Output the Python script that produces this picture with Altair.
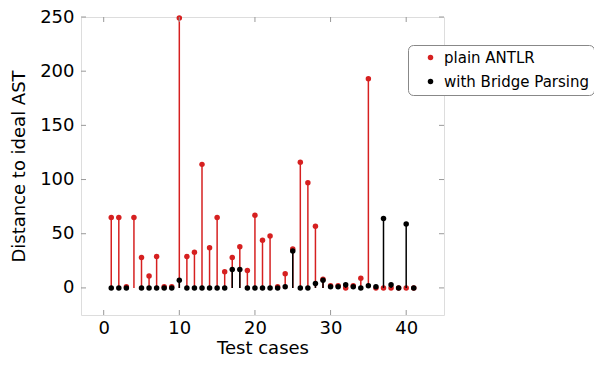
import altair as alt
import pandas as pd

# ---- data ----
cases = list(range(1, 42))
plain_antlr = [65, 65, 1, 65, 28, 11, 29, 1, 1, 249,
               29, 33, 114, 37, 65, 15, 28, 38, 16, 67,
               44, 48, 1, 13, 36, 116, 97, 57, 8, 2,
               2, 0, 2, 9, 193, 0, 0, 0, 0, 0,
               0]
bridge = [0, 0, 0, None, 0, 0, 0, 0, 0, 7,
          0, 0, 0, 0, 0, 0, 17, 17, 0, 0,
          0, 0, 0, 1, 34, 0, 0, 4, 7, 1,
          1, 3, 1, 0, 2, 1, 64, 3, 0, 59,
          0]
series_names = ["plain ANTLR", "with Bridge Parsing"]
series_colors = ["#d62020", "#000000"]
x_ticks = [0, 10, 20, 30, 40]
y_ticks = [0, 50, 100, 150, 200, 250]

rows = []
for c, v in zip(cases, plain_antlr):
    if v is not None:
        rows.append({"case": c, "value": v, "series": series_names[0]})
for c, v in zip(cases, bridge):
    if v is not None:
        rows.append({"case": c, "value": v, "series": series_names[1]})
df = pd.DataFrame(rows)

W, H = 363, 298
FONT = "DejaVu Sans"
FS = 18

xs = alt.Scale(domain=[-3, 45], nice=False, zero=False)
ys = alt.Scale(domain=[-25, 250], nice=False, zero=False)
cs = alt.Scale(domain=series_names, range=series_colors)

x_axis = alt.Axis(values=x_ticks, title="Test cases", tickSize=0,
                  domain=False, grid=False, labelPadding=4,
                  titlePadding=2, labelFontSize=FS, titleFontSize=FS,
                  labelColor="#000", titleColor="#000",
                  labelFont=FONT, titleFont=FONT, titleFontWeight="normal")
y_axis = alt.Axis(values=y_ticks, title="Distance to ideal AST", tickSize=0,
                  domain=False, grid=False, labelPadding=7,
                  titlePadding=11, labelFontSize=FS, titleFontSize=18,
                  labelColor="#000", titleColor="#000",
                  labelFont=FONT, titleFont=FONT, titleFontWeight="normal")
x_enc = alt.X("case:Q", scale=xs, axis=x_axis)
y_enc = alt.Y("value:Q", scale=ys, axis=y_axis)

layers = []
for i, name in enumerate(series_names):
    sub = alt.Chart(df).transform_filter(alt.datum.series == name)
    stems = sub.mark_rule(strokeWidth=1.5, color=series_colors[i]).encode(
        x=x_enc, y=y_enc, y2=alt.datum(0))
    pts = sub.mark_point(filled=True, shape="circle", size=30, opacity=1).encode(
        x=x_enc, y=y_enc,
        color=alt.Color("series:N", scale=cs,
                        legend=alt.Legend(title=None, orient="none", legendX=327, legendY=28,
                                          strokeColor="#888", cornerRadius=5, padding=5,
                                          fillColor="white",
                                          labelFontSize=15, labelFont=FONT, labelColor="#000",
                                          symbolType="circle", symbolSize=30,
                                          symbolStrokeWidth=0, symbolOffset=10,
                                          labelOffset=6, rowPadding=8,
                                          labelLimit=300)))
    layers += [stems, pts]

tx = pd.DataFrame({"case": x_ticks})
ty = pd.DataFrame({"value": y_ticks})
tick_col = "#999999"
bx = alt.Chart(tx).mark_rule(color=tick_col, strokeWidth=1).encode(
    x=x_enc, y=alt.value(H), y2=alt.value(H - 5))
tx_top = alt.Chart(tx).mark_rule(color=tick_col, strokeWidth=1).encode(
    x=x_enc, y=alt.value(0), y2=alt.value(5))
ly = alt.Chart(ty).mark_rule(color=tick_col, strokeWidth=1).encode(
    y=y_enc, x=alt.value(0), x2=alt.value(5))
ry = alt.Chart(ty).mark_rule(color=tick_col, strokeWidth=1).encode(
    y=y_enc, x=alt.value(W), x2=alt.value(W - 5))

chart = alt.layer(*layers, bx, tx_top, ly, ry).properties(
    width=W, height=H,
    autosize=alt.AutoSizeParams(type="none"),
    padding={"left": 73, "top": 9, "right": 150, "bottom": 43},
).configure_view(stroke="#707070", strokeWidth=1.5).configure(background="white")

chart.save("out.html", embed_options={"renderer": "svg", "actions": False})
